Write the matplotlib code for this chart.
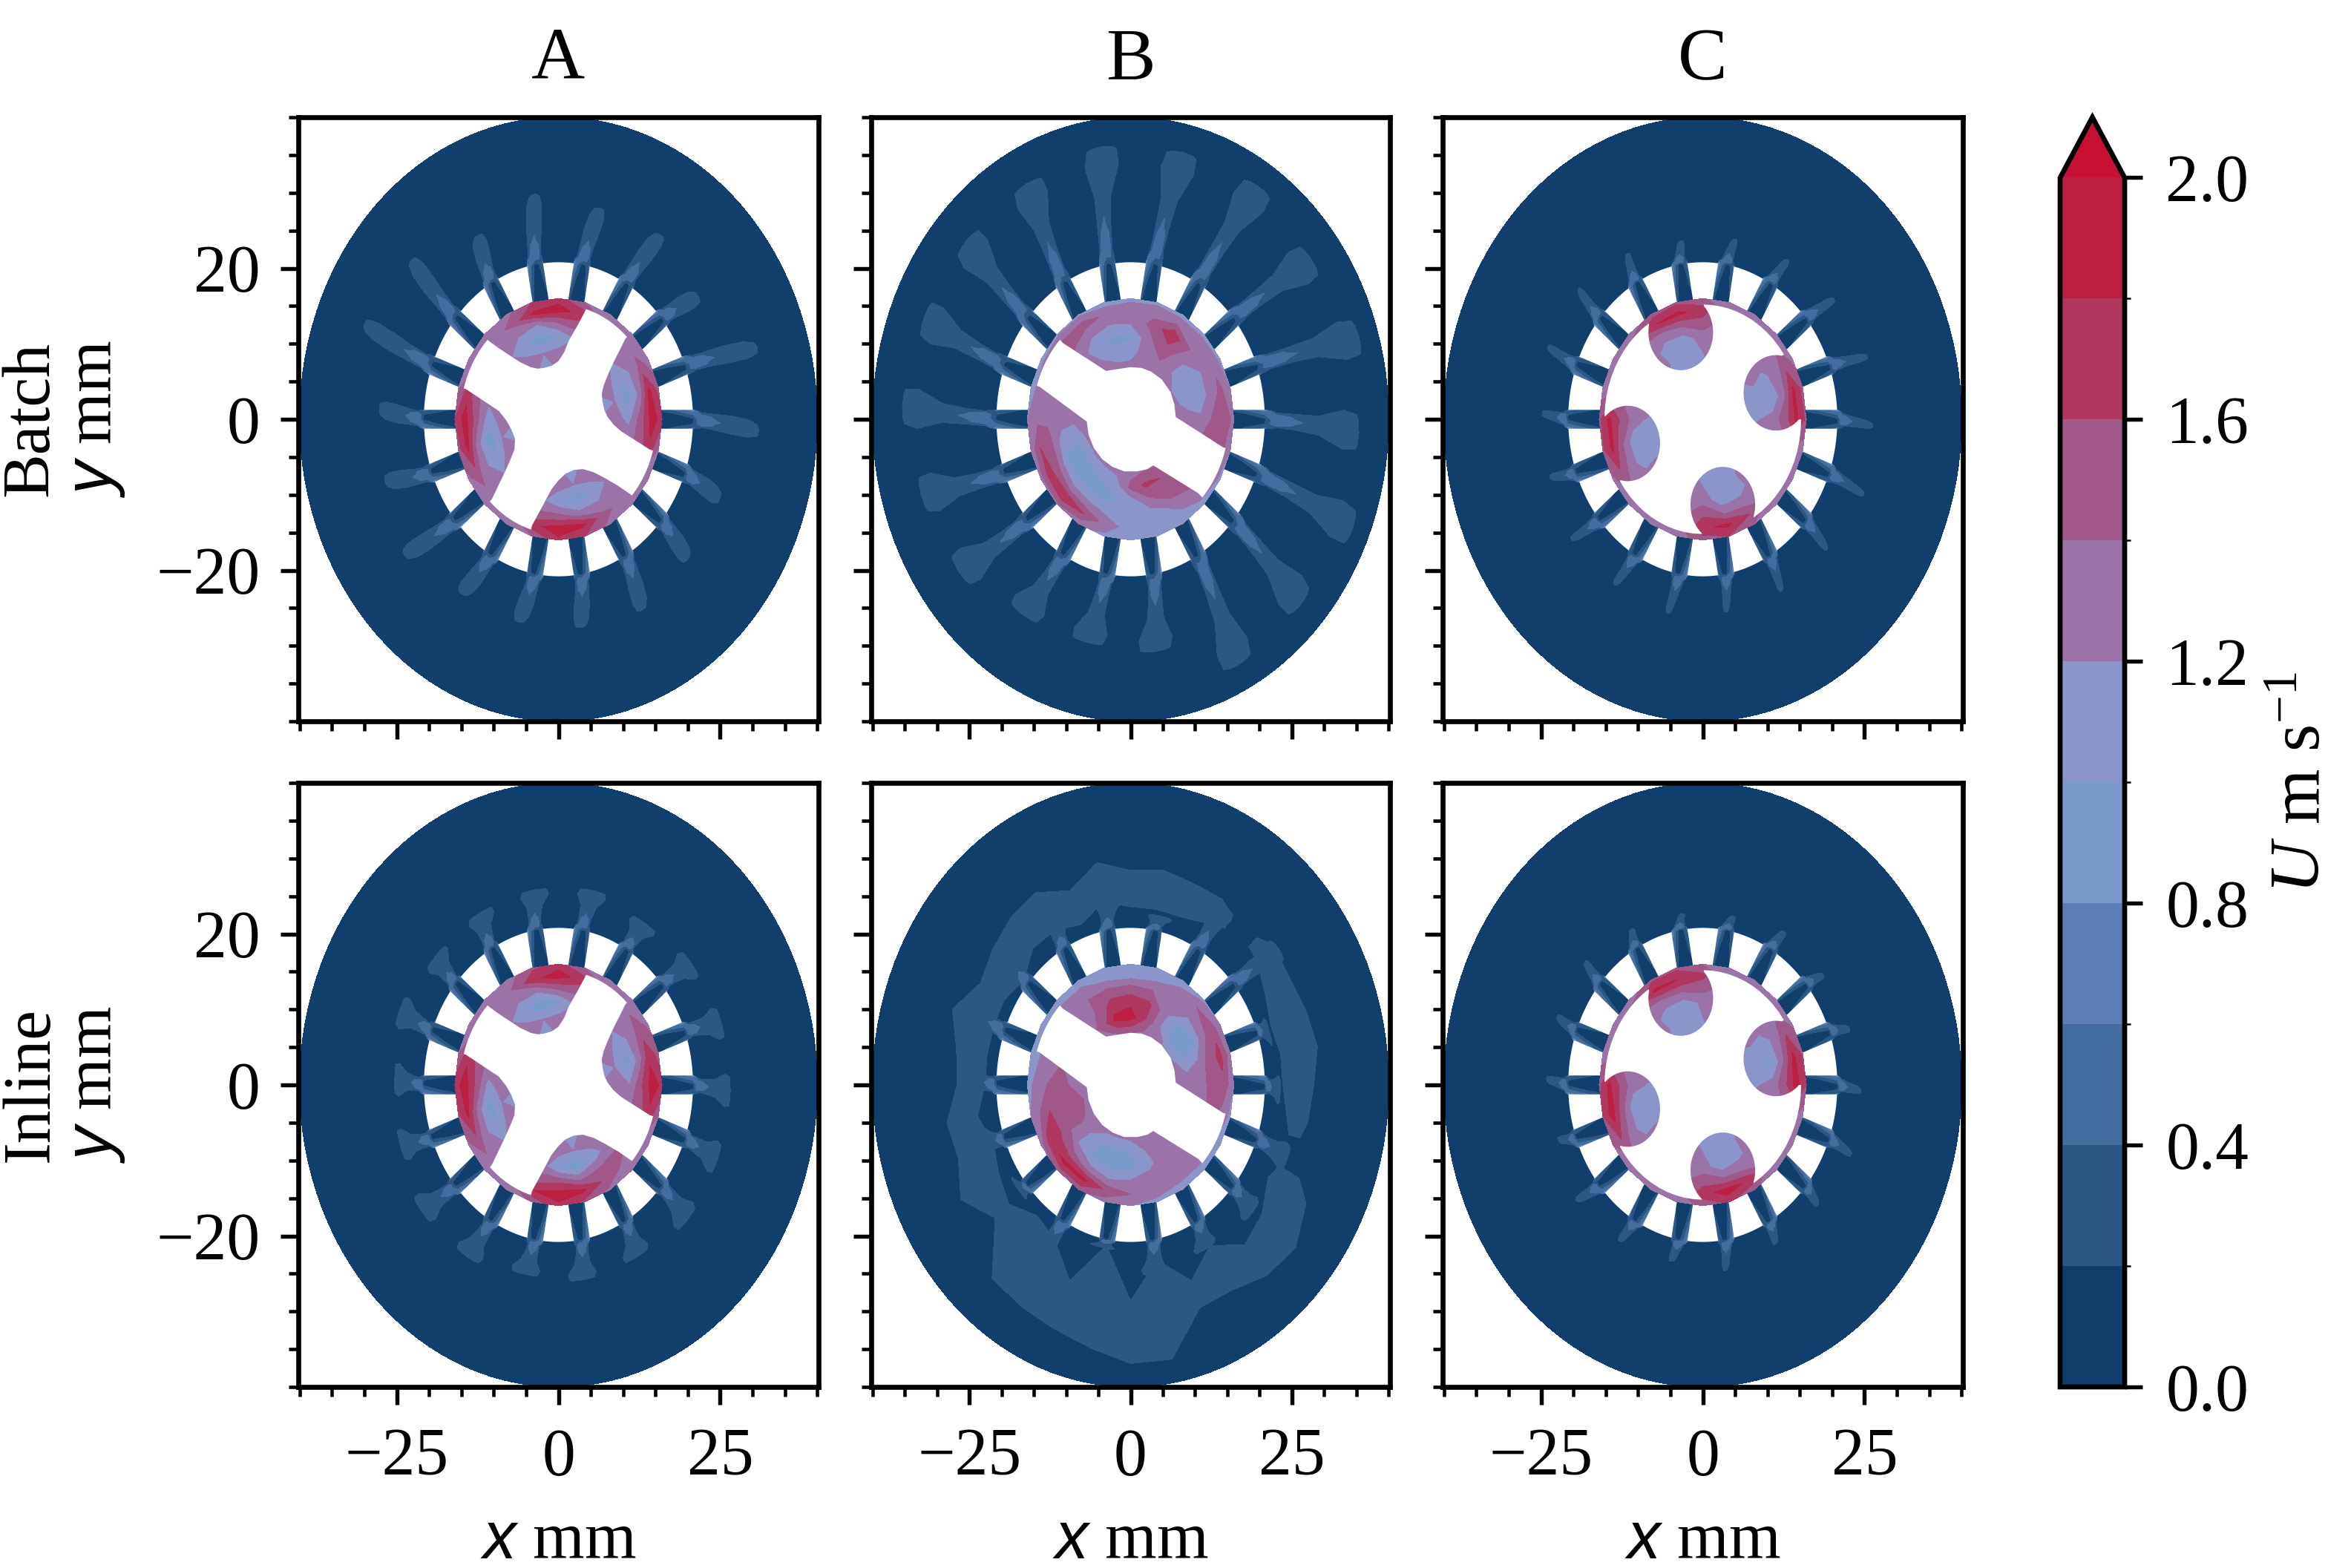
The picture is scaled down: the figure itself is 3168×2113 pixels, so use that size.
#!/usr/bin/env python3

import numpy as np
import matplotlib
matplotlib.use('Agg')
import matplotlib.pyplot as plt
from matplotlib.colors import ListedColormap, BoundaryNorm
from matplotlib.ticker import MultipleLocator

plt.rcParams['font.family'] = ['Liberation Serif', 'DejaVu Serif']
plt.rcParams['mathtext.fontset'] = 'custom'
plt.rcParams['mathtext.rm'] = 'Liberation Serif'
plt.rcParams['mathtext.it'] = 'Liberation Serif:italic'
plt.rcParams['mathtext.bf'] = 'Liberation Serif:bold'
plt.rcParams['mathtext.sf'] = 'Liberation Sans:italic'
plt.rcParams['font.size'] = 21.5

W, H = 3168, 2113

columns = ['A', 'B', 'C']
rows = ['Batch', 'Inline']
x_ticks = [-25, 0, 25]
y_ticks = [-20, 0, 20]
cbar_ticks = [0.0, 0.4, 0.8, 1.2, 1.6, 2.0]

levels = [0.0, 0.2, 0.4, 0.6, 0.8, 1.0, 1.2, 1.4, 1.6, 1.8, 2.0]
band_colors = ['#103f6e', '#2b5785', '#436c9f', '#5e7fb3', '#7a9acd',
               '#8b95c9', '#9a74a6', '#a05888', '#b03860', '#bb1f42']
over_color = '#c81035'

# outside the stator, still fluid
disc_speed = 0.05
disc_radius = 40.0

# rotor speed tables, rows are rotor_r, columns are rotor_theta
rotor_r = [6.5, 9, 11, 13, 14.5, 16]
rotor_theta = [0, 15, 30, 45, 60, 75, 90, 105, 120, 135, 150, 165,
               180, 195, 210, 225, 240, 255, 270, 285, 300, 315, 330, 345]

rotor_a_batch = [
    [1.2] * 24,
    [1.25, 1.2, 1.25, 1.3, 1.3, 1.3, 1.25, 1.2, 1.25, 1.3, 1.3, 1.3, 1.25, 1.2, 1.25, 1.3, 1.3, 1.3, 1.25, 1.2, 1.25, 1.3, 1.3, 1.3],
    [1.15, 0.9, 1.0, 1.2, 1.3, 1.2, 1.0, 0.85, 1.05, 1.25, 1.3, 1.25, 1.1, 0.85, 1.05, 1.25, 1.3, 1.25, 1.05, 0.85, 1.05, 1.25, 1.3, 1.3],
    [1.55, 1.25, 1.25, 1.3, 1.4, 1.55, 1.45, 1.2, 1.25, 1.3, 1.3, 1.45, 1.55, 1.3, 1.25, 1.3, 1.3, 1.45, 1.5, 1.3, 1.25, 1.3, 1.3, 1.5],
    [1.9, 1.85, 1.45, 1.3, 1.4, 1.7, 1.9, 1.85, 1.45, 1.3, 1.4, 1.7, 1.9, 1.85, 1.5, 1.3, 1.4, 1.75, 1.9, 1.85, 1.45, 1.3, 1.4, 1.75],
    [1.7, 1.5, 1.3, 1.25, 1.25, 1.4, 1.7, 1.6, 1.35, 1.25, 1.25, 1.35, 1.6, 1.5, 1.35, 1.25, 1.25, 1.4, 1.75, 1.6, 1.35, 1.25, 1.25, 1.35],
]
rotor_a_inline = [
    [1.2] * 24,
    [1.25, 1.2, 1.25, 1.3, 1.3, 1.3, 1.25, 1.2, 1.25, 1.3, 1.3, 1.3, 1.25, 1.2, 1.25, 1.3, 1.3, 1.3, 1.25, 1.2, 1.25, 1.3, 1.3, 1.3],
    [1.2, 0.9, 1.05, 1.25, 1.3, 1.2, 0.95, 0.85, 1.05, 1.25, 1.3, 1.3, 1.15, 0.85, 1.0, 1.2, 1.3, 1.3, 1.0, 0.85, 1.1, 1.3, 1.35, 1.35],
    [1.6, 1.3, 1.3, 1.35, 1.4, 1.5, 1.5, 1.25, 1.25, 1.35, 1.35, 1.55, 1.6, 1.35, 1.25, 1.25, 1.3, 1.5, 1.6, 1.35, 1.45, 1.45, 1.35, 1.5],
    [1.9, 1.75, 1.5, 1.35, 1.4, 1.7, 1.9, 1.75, 1.4, 1.3, 1.4, 1.75, 1.9, 1.85, 1.55, 1.3, 1.4, 1.8, 1.9, 1.85, 1.55, 1.35, 1.4, 1.75],
    [1.75, 1.5, 1.35, 1.25, 1.25, 1.4, 1.7, 1.55, 1.3, 1.25, 1.25, 1.4, 1.7, 1.55, 1.35, 1.25, 1.25, 1.45, 1.75, 1.55, 1.35, 1.25, 1.25, 1.4],
]
rotor_b_batch = [
    [1.3] * 24,
    [1.3, 1.1, 1.0, 1.2, 1.4, 1.3, 1.1, 1.1, 1.2, 1.3, 1.3, 1.3, 1.25, 1.05, 0.85, 0.95, 1.0, 1.1, 1.45, 1.65, 1.6, 1.4, 1.3, 1.3],
    [1.25, 1.05, 1.0, 1.25, 1.55, 1.35, 0.95, 0.95, 1.1, 1.3, 1.3, 1.3, 1.3, 1.1, 0.95, 0.95, 0.9, 0.95, 1.05, 1.35, 1.6, 1.5, 1.4, 1.4],
    [1.45, 1.3, 1.25, 1.4, 1.75, 1.45, 1.25, 1.2, 1.25, 1.45, 1.4, 1.35, 1.35, 1.5, 1.45, 1.3, 1.25, 1.15, 1.05, 1.1, 1.25, 1.4, 1.45, 1.5],
    [1.6, 1.45, 1.35, 1.4, 1.4, 1.35, 1.3, 1.35, 1.5, 1.45, 1.3, 1.25, 1.35, 1.6, 1.7, 1.8, 1.6, 1.3, 1.1, 1.05, 1.15, 1.3, 1.35, 1.5],
    [1.3, 1.2, 1.15, 1.1, 1.1, 1.15, 1.15, 1.1, 1.15, 1.15, 1.15, 1.15, 1.2, 1.25, 1.3, 1.35, 1.25, 1.15, 1.05, 1.05, 1.1, 1.1, 1.15, 1.2],
]
rotor_b_inline = [
    [1.3] * 24,
    [1.3, 1.15, 0.85, 0.9, 1.2, 1.6, 1.9, 1.85, 1.45, 1.3, 1.3, 1.3, 1.35, 1.55, 1.45, 1.2, 1.0, 0.95, 1.0, 1.2, 1.3, 1.3, 1.3, 1.3],
    [1.3, 1.25, 0.95, 0.95, 1.25, 1.65, 1.75, 1.7, 1.4, 1.3, 1.35, 1.4, 1.5, 1.6, 1.45, 1.15, 0.95, 0.9, 0.95, 1.15, 1.3, 1.3, 1.3, 1.3],
    [1.55, 1.55, 1.35, 1.25, 1.3, 1.4, 1.45, 1.45, 1.4, 1.35, 1.3, 1.3, 1.4, 1.6, 1.65, 1.5, 1.3, 1.2, 1.25, 1.3, 1.3, 1.3, 1.35, 1.45],
    [1.55, 1.65, 1.55, 1.4, 1.25, 1.15, 1.1, 1.15, 1.25, 1.25, 1.2, 1.2, 1.25, 1.4, 1.7, 1.85, 1.85, 1.55, 1.4, 1.3, 1.25, 1.25, 1.25, 1.35],
    [1.2, 1.25, 1.2, 1.15, 1.1, 1.05, 1.05, 1.05, 1.1, 1.1, 1.1, 1.1, 1.15, 1.2, 1.3, 1.45, 1.45, 1.3, 1.2, 1.15, 1.1, 1.1, 1.1, 1.15],
]
rotor_c_batch = [
    [1.2] * 24,
    [1.2, 1.1, 1.2, 1.3, 1.3, 1.3, 1.2, 1.05, 1.15, 1.3, 1.3, 1.3, 1.2, 1.05, 1.15, 1.3, 1.3, 1.3, 1.2, 1.05, 1.15, 1.3, 1.3, 1.3],
    [1.3, 1.0, 1.15, 1.3, 1.3, 1.3, 1.3, 1.1, 1.1, 1.3, 1.3, 1.3, 1.35, 1.05, 1.1, 1.3, 1.3, 1.3, 1.35, 1.05, 1.1, 1.3, 1.3, 1.3],
    [1.55, 1.35, 1.3, 1.35, 1.3, 1.3, 1.55, 1.45, 1.35, 1.35, 1.3, 1.35, 1.6, 1.45, 1.35, 1.35, 1.3, 1.35, 1.6, 1.4, 1.35, 1.35, 1.3, 1.35],
    [1.85, 1.85, 1.5, 1.35, 1.3, 1.3, 1.7, 1.85, 1.8, 1.5, 1.3, 1.35, 1.85, 1.85, 1.55, 1.35, 1.3, 1.35, 1.75, 1.85, 1.6, 1.35, 1.3, 1.4],
    [1.55, 1.5, 1.35, 1.25, 1.25, 1.25, 1.45, 1.55, 1.5, 1.3, 1.25, 1.3, 1.55, 1.55, 1.35, 1.25, 1.25, 1.3, 1.5, 1.6, 1.4, 1.25, 1.25, 1.3],
]
rotor_c_inline = [
    [1.2] * 24,
    [1.2, 1.0, 1.15, 1.3, 1.3, 1.3, 1.2, 1.05, 1.15, 1.3, 1.3, 1.3, 1.2, 1.05, 1.15, 1.3, 1.3, 1.3, 1.2, 1.05, 1.15, 1.3, 1.3, 1.3],
    [1.3, 0.95, 1.1, 1.3, 1.3, 1.3, 1.25, 1.05, 1.1, 1.3, 1.3, 1.3, 1.3, 1.05, 1.1, 1.3, 1.3, 1.3, 1.3, 1.05, 1.15, 1.3, 1.3, 1.3],
    [1.6, 1.4, 1.3, 1.35, 1.3, 1.3, 1.5, 1.45, 1.4, 1.35, 1.3, 1.35, 1.6, 1.5, 1.35, 1.35, 1.3, 1.35, 1.55, 1.45, 1.4, 1.35, 1.3, 1.4],
    [1.9, 1.85, 1.55, 1.35, 1.3, 1.3, 1.65, 1.8, 1.85, 1.5, 1.3, 1.4, 1.85, 1.9, 1.6, 1.35, 1.3, 1.35, 1.7, 1.9, 1.75, 1.35, 1.3, 1.45],
    [1.6, 1.55, 1.35, 1.25, 1.25, 1.25, 1.4, 1.55, 1.55, 1.3, 1.25, 1.3, 1.55, 1.6, 1.4, 1.25, 1.25, 1.3, 1.45, 1.65, 1.45, 1.25, 1.25, 1.3],
]

# white rotor shape, arm edges in mm going clockwise, joined along the rim
arms_a_x = [[-10.8, -9.2, -7.6, -6.0, -4.3, -3.2, -2.2, -1.0, 0.0, 0.9, 1.6, 3.0, 4.3],
            [10.3, 9.5, 8.6, 7.7, 7.0, 6.7, 6.8, 7.1, 7.6, 8.5, 9.7, 14.1],
            [11.4, 9.2, 7.0, 5.4, 3.8, 2.4, 1.1, 0.0, -1.1, -2.4, -4.1],
            [-10.3, -9.3, -8.4, -7.5, -6.8, -6.7, -7.3, -8.1, -9.2, -14.3]]
arms_a_y = [[10.4, 9.4, 8.5, 7.6, 6.9, 6.7, 6.8, 7.1, 7.7, 8.9, 10.4, 12.5, 14.6],
            [10.6, 9.2, 7.7, 6.0, 4.5, 3.4, 2.4, 1.2, 0.3, -0.7, -1.6, -4.0],
            [-10.1, -8.8, -7.7, -7.0, -6.6, -6.7, -7.2, -8.1, -9.3, -11.4, -14.1],
            [-10.6, -8.8, -7.2, -5.5, -4.0, -2.6, -1.3, -0.1, 1.1, 4.0]]
arms_b_x = [[-10.5, -3.8, -2.4, 0.0, 1.7, 3.2, 4.8, 6.2, 6.8, 7.0, 14.3],
            [10.5, 3.5, 2.6, 1.0, -1.0, -2.8, -4.4, -5.7, -6.5, -6.8, -14.1]]
arms_b_y = [[10.1, 6.4, 6.6, 6.9, 6.8, 6.3, 5.3, 3.6, 1.9, 0.3, -3.7],
            [-9.8, -6.1, -6.6, -6.9, -6.9, -6.3, -5.3, -3.8, -2.1, -0.3, 4.3]]
# panel C blades are round holes in the white disc, clockwise order
lobes_c_x = [-3.4, 11.3, 3.1, -11.6]
lobes_c_y = [11.5, 3.5, -11.3, -3.2]
lobes_c_r = [5.0, 5.0, 5.0, 5.0]

rotor_inner_r = 15.2

# stator
jet_theta = [0, 20, 40, 60, 80, 100, 120, 140, 160, 180, 200, 220, 240, 260, 280, 300, 320, 340]
window_r = [15.8, 20.8]
bar_half = 1.25

# how far each jet plume reaches, mm
reach_a_batch = [31.4, 32.6, 27.3, 29.4, 29.0, 30.4, 27.6, 31.4, 33.0, 28.0, 28.3, 30.2, 27.8, 27.8, 28.1, 28.7, 27.5, 27.3]
reach_a_inline = [26.8, 26.7, 26.3, 25.4, 26.5, 26.3, 26.0, 25.7, 26.7, 25.5, 25.9, 27.2, 27.0, 25.8, 26.3, 26.0, 27.0, 26.7]
reach_b_batch = [36.0, 37.7, 35.7, 37.3, 36.9, 37.0, 35.7, 35.3, 35.3, 36.0, 34.5, 33.9, 31.2, 30.7, 31.4, 37.2, 36.6, 38.0]
reach_b_inline = [23.3, 22.7, 29.5, 28.0, 22.9, 24.7, 25.0, 26.2, 27.7, 25.4, 24.0, 22.3, 26.3, 22.0, 25.5, 24.8, 25.5, 26.4]
reach_c_batch = [26.5, 27.0, 26.0, 25.0, 24.5, 24.0, 25.0, 26.0, 26.0, 25.0, 25.0, 26.0, 26.0, 26.5, 26.0, 26.0, 26.0, 27.0]
reach_c_inline = [24.6, 24.0, 23.8, 24.0, 22.9, 23.0, 23.5, 24.6, 24.4, 24.3, 23.6, 25.0, 24.5, 24.0, 25.0, 24.0, 24.0, 24.9]

# plume half widths at the stops along the free part of a jet
jet_stops = [0.1, 0.3, 0.55, 0.8, 0.93, 1.0]
width_a_batch = [1.1, 1.3, 1.6, 1.6, 1.2, 0.6]
width_a_inline = [1.0, 1.2, 1.6, 3.0, 3.0, 1.6]
width_b_batch = [1.1, 1.3, 1.7, 3.6, 3.6, 2.0]
width_b_inline = [1.1, 1.2, 1.6, 2.6, 2.4, 1.2]
width_c_batch = [1.0, 0.9, 0.8, 0.7, 0.5, 0.3]
width_c_inline = [1.0, 0.9, 0.8, 0.7, 0.5, 0.3]

# plumes lean clockwise a little, degrees at the tip
bend_per_panel = [[-3.0, -3.0, -2.0], [-2.0, -2.0, -2.0]]

# speed across a jet, from the bar (r 16, 18, 20.8) to the stops
jet_across = [-1.0, -0.5, 0.0, 0.5, 1.0]
jet_speed = [
    [0.15, 0.1, 0.1, 0.1, 0.25],
    [0.25, 0.1, 0.1, 0.15, 0.45],
    [0.45, 0.2, 0.15, 0.4, 0.7],
    [0.1, 0.6, 0.6, 0.55, 0.1],
    [0.1, 0.35, 0.45, 0.35, 0.1],
    [0.1, 0.3, 0.3, 0.3, 0.1],
    [0.1, 0.28, 0.3, 0.28, 0.1],
    [0.1, 0.24, 0.28, 0.24, 0.1],
    [0.1, 0.1, 0.1, 0.1, 0.1],
]

# low speed patches of the inline B panel, inner and outer radius every 10 degrees
patch_theta = list(range(0, 360, 10))
patch_inner = [24, 24, 23.5, 24.5, 26, 0, 25, 24, 24, 24, 25, 23, 24, 24, 22, 23, 23, 23,
               23, 24.5, 23, 24, 25, 23, 24, 28, 22, 29, 24, 28, 25, 28, 27, 25, 0, 25]
patch_outer = [28, 29, 28.5, 28, 28.5, 0, 28, 28, 28.5, 28, 29.5, 27, 29, 28.5, 27.5, 26.5, 29, 27,
               26.5, 28.5, 28, 30, 27, 33, 33.5, 34, 35, 36.5, 36.5, 31, 31, 32.5, 33, 31, 0, 27.5]
patch_speed = 0.3
no_flow = 0.1

panel_x = [(402, 1103), (1174, 1873), (1944, 2645)]
panel_y = [(158, 972), (1055, 1869)]

cmap = ListedColormap(band_colors)
cmap.set_over(over_color)
norm = BoundaryNorm(levels, len(band_colors))


def add_ax(x0, x1, y0, y1):
    return fig.add_axes([x0 / W, 1 - y1 / H, (x1 - x0) / W, (y1 - y0) / H])


def fill(ax, X, Y, Z, z, lev=levels):
    cs = ax.contourf(X, Y, Z, levels=lev, cmap=cmap, norm=norm, extend='max')
    cs.set_zorder(z)
    return cs


def polar(r, t):
    t = np.deg2rad(t)
    return r * np.cos(t), r * np.sin(t)


def draw_disc(ax):
    t = np.arange(0, 361, 3.0)
    r = np.array([0.0, disc_radius])
    R, T = np.meshgrid(r, t, indexing='ij')
    X, Y = polar(R, T)
    return fill(ax, X, Y, np.full(X.shape, disc_speed), 1)


def draw_patch(ax):
    inner = np.array(patch_inner + patch_inner[:1], dtype=float)
    outer = np.array(patch_outer + patch_outer[:1], dtype=float)
    t = np.array(patch_theta + [360], dtype=float)
    has = outer > 0
    inner[~has] = 26.0
    outer[~has] = 27.0
    R = np.vstack([inner - 0.8, inner, outer, outer + 0.8])
    T = np.tile(t, (4, 1))
    Z = np.full(R.shape, no_flow)
    Z[1:3, has] = patch_speed
    X, Y = polar(R, T)
    fill(ax, X, Y, Z, 1.5, levels[1:])


def draw_jet(ax, theta, reach, widths, bend):
    free = [21 + (reach - 21) * f for f in jet_stops]
    r = np.array([16, 18, 20.8] + free)
    half = np.array([bar_half, bar_half, bar_half] + list(widths))
    lean = np.array([0, 0, 0] + [bend * f for f in jet_stops])
    across = np.array(jet_across)
    X = np.zeros((len(r), len(across)))
    Y = np.zeros_like(X)
    for i in range(len(r)):
        t = np.deg2rad(theta + lean[i])
        X[i] = r[i] * np.cos(t) - across * half[i] * np.sin(t)
        Y[i] = r[i] * np.sin(t) + across * half[i] * np.cos(t)
    # only the part above the lowest band, the disc is dark underneath
    fill(ax, X, Y, np.array(jet_speed), 2, levels[1:])


def draw_windows(ax):
    for b in jet_theta:
        edge = []
        for r in window_r:
            gap = np.rad2deg(np.arcsin(bar_half / r))
            arc = np.linspace(b + gap, b + 20 - gap, 7)
            edge.append(polar(r, arc))
        xs = np.r_[edge[0][0], edge[1][0][::-1]]
        ys = np.r_[edge[0][1], edge[1][1][::-1]]
        ax.fill(xs, ys, color='white', lw=0, zorder=3)


def draw_rotor(ax, table):
    t = np.array(rotor_theta + [360], dtype=float)
    R, T = np.meshgrid(np.array(rotor_r, dtype=float), t, indexing='ij')
    Z = np.array(table, dtype=float)
    Z = np.hstack([Z, Z[:, :1]])
    X, Y = polar(R, T)
    fill(ax, X, Y, Z, 4)


def join_arms(arms_x, arms_y):
    xs, ys = [], []
    n = len(arms_x)
    for i in range(n):
        xs += list(arms_x[i])
        ys += list(arms_y[i])
        a = np.rad2deg(np.arctan2(arms_y[i][-1], arms_x[i][-1]))
        b = np.rad2deg(np.arctan2(arms_y[(i + 1) % n][0], arms_x[(i + 1) % n][0]))
        if b > a:
            b -= 360
        ax_, ay_ = polar(rotor_inner_r, np.linspace(a, b, 12))
        xs += list(ax_)
        ys += list(ay_)
    return xs, ys


def lobe_arms():
    arms_x, arms_y = [], []
    for cx, cy, rad in zip(lobes_c_x, lobes_c_y, lobes_c_r):
        mid = np.rad2deg(np.arctan2(cy, cx)) + 180
        phi = np.deg2rad(np.linspace(mid - 130, mid + 130, 45))
        px = cx + rad * np.cos(phi)
        py = cy + rad * np.sin(phi)
        keep = np.hypot(px, py) < rotor_inner_r
        arms_x.append(list(px[keep]))
        arms_y.append(list(py[keep]))
    return arms_x, arms_y


fig = plt.figure(figsize=(W / 300, H / 300), dpi=300)

reaches = [[reach_a_batch, reach_b_batch, reach_c_batch],
           [reach_a_inline, reach_b_inline, reach_c_inline]]
widths = [[width_a_batch, width_b_batch, width_c_batch],
          [width_a_inline, width_b_inline, width_c_inline]]
tables = [[rotor_a_batch, rotor_b_batch, rotor_c_batch],
          [rotor_a_inline, rotor_b_inline, rotor_c_inline]]
shapes = [join_arms(arms_a_x, arms_a_y), join_arms(arms_b_x, arms_b_y), join_arms(*lobe_arms())]

cs = None
for i, (y0, y1) in enumerate(panel_y):
    for j, (x0, x1) in enumerate(panel_x):
        ax = add_ax(x0, x1, y0, y1)
        cs = draw_disc(ax)
        if (i, j) == (1, 1):
            draw_patch(ax)
        for theta, reach in zip(jet_theta, reaches[i][j]):
            draw_jet(ax, theta, reach, widths[i][j], bend_per_panel[i][j])
        draw_windows(ax)
        draw_rotor(ax, tables[i][j])
        ax.fill(shapes[j][0], shapes[j][1], color='white', lw=0, zorder=5)

        ax.set_xlim(-40.2, 40.2)
        ax.set_ylim(-40, 40)
        ax.set_xticks(x_ticks)
        ax.set_yticks(y_ticks)
        ax.xaxis.set_minor_locator(MultipleLocator(5))
        ax.yaxis.set_minor_locator(MultipleLocator(5))
        ax.tick_params(which='major', length=5.8, width=1.3)
        ax.tick_params(axis='x', which='major', pad=7.5)
        ax.tick_params(axis='y', which='major', pad=6.5)
        ax.tick_params(which='minor', length=3.2, width=1.1)
        for s in ax.spines.values():
            s.set_linewidth(1.6)
            s.set_zorder(10)
        if i == 0:
            ax.set_title(columns[j], fontsize=24, pad=12.5)
            ax.tick_params(labelbottom=False)
        else:
            ax.set_xlabel(r'$\mathsf{x}$ mm', labelpad=7)
        if j == 0:
            ax.set_ylabel(rows[i] + '\n' + r'$\mathsf{y}$ mm', labelpad=9.5, linespacing=1.05)
        else:
            ax.tick_params(labelleft=False)

cax = add_ax(2776, 2863, 158, 1869)
cbar = fig.colorbar(cs, cax=cax, extend='max', extendfrac=0.05, ticks=cbar_ticks, drawedges=False)
cbar.ax.set_yticklabels(['%.1f' % v for v in cbar_ticks])
cbar.ax.tick_params(length=5.8, width=1.3, pad=7.5)
cbar.outline.set_linewidth(1.6)
cbar.set_label('$U$ m s$^{-1}$', labelpad=7, fontsize=23)

fig.savefig('out.png', dpi=300)
